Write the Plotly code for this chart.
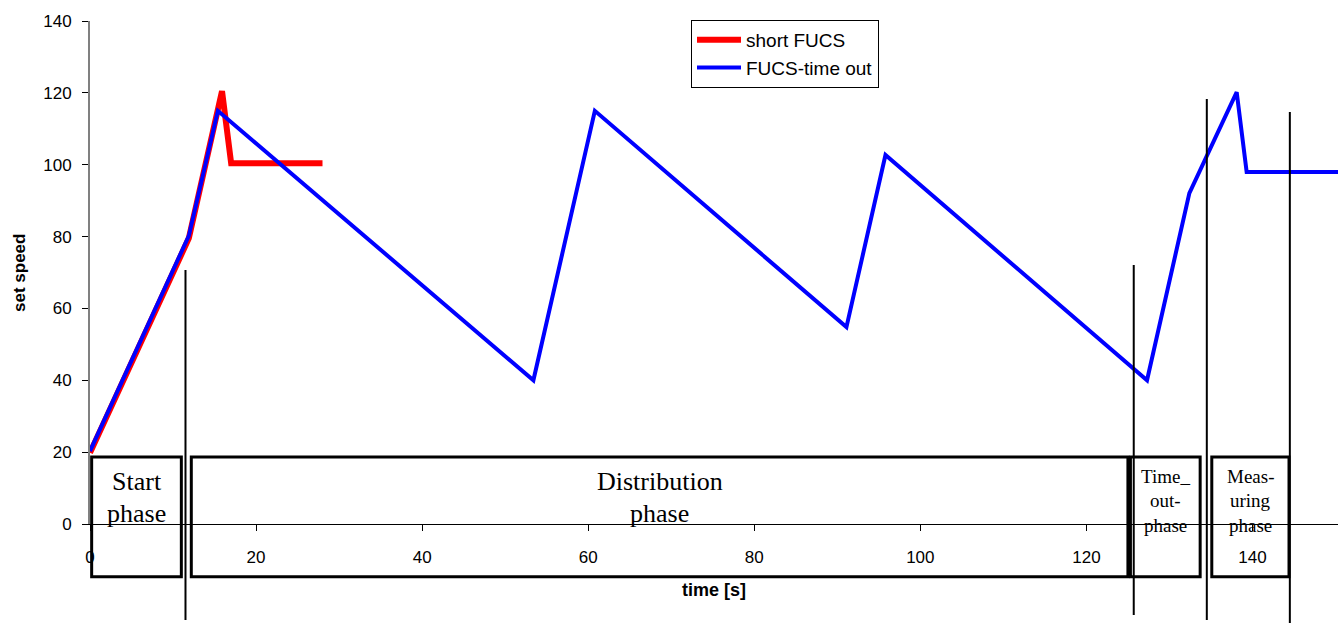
import plotly.graph_objects as go

# Data
short_t = [0, 11.9, 15.9, 17.0, 28.0]
short_v = [19.8, 79.5, 120.5, 100.4, 100.4]
timeout_t = [0, 11.9, 15.4, 53.4, 60.8, 91.1, 95.8, 127.3, 132.4, 138.1, 139.3, 150.3]
timeout_v = [20.3, 80.2, 115.0, 40.0, 115.0, 54.8, 102.7, 40.0, 92.1, 120.2, 98.0, 98.0]
x_ticks = [0, 20, 40, 60, 80, 100, 120, 140]
y_ticks = [0, 20, 40, 60, 80, 100, 120, 140]

phase_lines = [
    (["Start", "phase"], 0.2, 11.0, 26),
    (["Distribution", "phase"], 12.2, 125.0, 26),
    (["Time_", "out-", "phase"], 125.3, 133.7, 19),
    (["Meas-", "uring", "phase"], 135.1, 144.4, 19),
]
vlines = [(11.5, 0.505, -0.191), (125.7, 0.515, -0.181), (134.5, 0.845, -0.191), (144.5, 0.819, -0.197)]


def py(p):
    return (524 - p) / 503


fig = go.Figure()
fig.add_trace(go.Scatter(x=short_t, y=short_v, mode="lines", name="short FUCS",
                         line=dict(color="#ff0000", width=6)))
fig.add_trace(go.Scatter(x=timeout_t, y=timeout_v, mode="lines", name="FUCS-time out",
                         line=dict(color="#0000ff", width=4)))

shapes = []
annotations = []
for lines, x0, x1, fs in phase_lines:
    shapes.append(dict(type="rect", xref="x", yref="paper", x0=x0, x1=x1, y0=-0.105, y1=0.133,
                       line=dict(color="black", width=3), fillcolor="rgba(0,0,0,0)", layer="above"))
    if fs > 20:
        centers = [481, 513]
    else:
        centers = [476, 500.5, 525]
    for line, c in zip(lines, centers):
        annotations.append(dict(text=line, xref="x", yref="paper", x=(x0 + x1) / 2, y=py(c),
                                xanchor="center", yanchor="middle", showarrow=False,
                                font=dict(family="Liberation Serif, Times New Roman, serif", size=fs, color="black")))
for x, y0, y1 in vlines:
    shapes.append(dict(type="line", xref="x", yref="paper", x0=x, x1=x, y0=y0, y1=y1,
                       line=dict(color="black", width=2), layer="above"))

annotations.append(dict(text="<b>time [s]</b>", xref="paper", yref="paper", x=(714 - 90) / 1248,
                        y=py(590), xanchor="center", yanchor="middle", showarrow=False,
                        font=dict(family="Liberation Sans, Arial", size=18, color="black")))
annotations.append(dict(text="<b>set speed</b>", xref="paper", yref="paper", x=(19 - 90) / 1248,
                        y=py(273), xanchor="center", yanchor="middle", showarrow=False,
                        textangle=-90, font=dict(family="Liberation Sans, Arial", size=17, color="black")))

fig.update_layout(
    width=1342, height=625,
    margin=dict(l=90, r=4, t=21, b=101),
    plot_bgcolor="white", paper_bgcolor="white",
    font=dict(family="Liberation Sans, Arial", size=17, color="black"),
    shapes=shapes, annotations=annotations,
    legend=dict(x=(691 - 90) / 1248, y=1.002, xanchor="left", yanchor="top",
                bordercolor="black", borderwidth=1, bgcolor="white",
                font=dict(size=19), tracegroupgap=0, itemwidth=44),
    showlegend=True,
)
fig.update_xaxes(range=[0, 150.3], tickvals=x_ticks, showgrid=False, zeroline=False,
                 showline=True, linecolor="black", linewidth=1,
                 ticks="outside", ticklen=6, tickcolor="black", ticklabelstandoff=12)
fig.update_yaxes(range=[0, 140], tickvals=y_ticks, showgrid=False, zeroline=False,
                 showline=True, linecolor="#808080", linewidth=2,
                 ticks="outside", ticklen=6, tickcolor="black", ticklabelstandoff=7)

fig.write_html("out.html")
